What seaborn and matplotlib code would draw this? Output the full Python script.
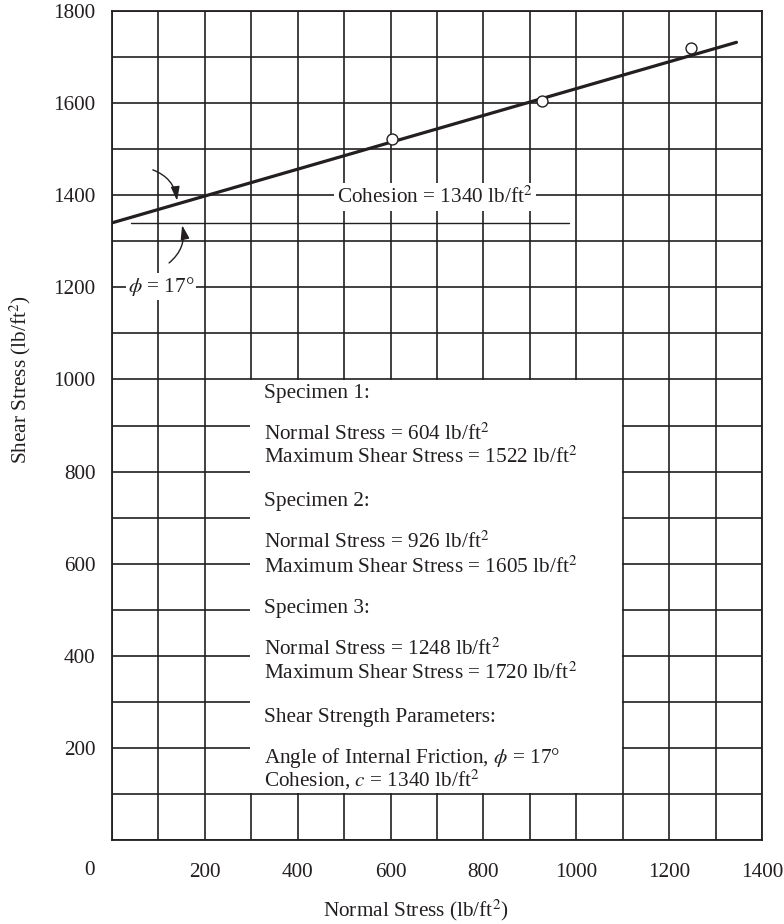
import matplotlib
matplotlib.use("Agg")
import matplotlib.pyplot as plt
import seaborn as sns
import numpy as np
import pandas as pd
from matplotlib.patches import Rectangle

# ---------------- data ----------------
normal_stress = [604, 926, 1248]
shear_stress = [1522, 1605, 1720]
fit_x = [0, 1345]
fit_y = [1340, 1732]
cohesion = 1340
cohesion_line_x = [40, 985]
x_tick_values = list(range(0, 1401, 100))
y_tick_values = list(range(0, 1801, 100))
x_tick_labels = [str(v) if (v % 200 == 0 and v > 0) else "" for v in x_tick_values]
y_tick_labels = [str(v) if (v % 200 == 0 and v > 0) else "" for v in y_tick_values]

info_lines = [
    ("Specimen 1:", 973),
    (r"Normal Stress = 604 lb/ft$^2$", 884),
    (r"Maximum Shear Stress = 1522 lb/ft$^2$", 832),
    ("Specimen 2:", 740),
    (r"Normal Stress = 926 lb/ft$^2$", 649),
    (r"Maximum Shear Stress = 1605 lb/ft$^2$", 595),
    ("Specimen 3:", 506),
    (r"Normal Stress = 1248 lb/ft$^2$", 417),
    (r"Maximum Shear Stress = 1720 lb/ft$^2$", 363),
    ("Shear Strength Parameters:", 271),
    (r"Angle of Internal Friction, $\phi$ = 17°", 182),
    (r"Cohesion, $c$ = 1340 lb/ft$^2$", 130),
]

# ---------------- style ----------------
sns.set_theme(style="white")
ink = "#231f20"
plt.rcParams["font.family"] = ["Liberation Serif", "DejaVu Serif"]
plt.rcParams["mathtext.fontset"] = "stix"
plt.rcParams["text.color"] = ink
plt.rcParams["axes.labelcolor"] = ink
plt.rcParams["xtick.color"] = ink
plt.rcParams["ytick.color"] = ink

FS = 15.3

fig = plt.figure(figsize=(7.84, 9.24), dpi=100)
ax = fig.add_axes([112 / 784, (924 - 840) / 924, 650 / 784, 829 / 924])

df_pts = pd.DataFrame({"normal": normal_stress, "shear": shear_stress})
df_fit = pd.DataFrame({"x": fit_x, "y": fit_y})

sns.lineplot(data=df_fit, x="x", y="y", ax=ax, color=ink, linewidth=2.3, zorder=4)
sns.scatterplot(data=df_pts, x="normal", y="shear", ax=ax, s=62,
                facecolor="white", edgecolor=ink, linewidth=1.0, zorder=5)

ax.set_xlim(0, 1400)
ax.set_ylim(0, 1800)
ax.set_xticks(x_tick_values)
ax.set_xticklabels(x_tick_labels, fontsize=FS)
ax.set_yticks(y_tick_values)
ax.set_yticklabels(y_tick_labels, fontsize=FS)
ax.tick_params(axis="both", length=0)
ax.tick_params(axis="x", pad=16.5)
ax.tick_params(axis="y", pad=12)

ax.set_axisbelow(True)
ax.grid(True, color=ink, linewidth=1.2)
for sp in ax.spines.values():
    sp.set_color(ink)
    sp.set_linewidth(1.3)
    sp.set_visible(True)

# corner zero label
ax.text(-0.034, -0.037, "0", transform=ax.transAxes, fontsize=FS,
        ha="center", va="center")

# white information panel covering the grid
ax.add_patch(Rectangle((297, 102), 1098 - 297, 998 - 102, facecolor="white",
                       edgecolor="none", zorder=1))
for txt, yv in info_lines:
    ax.text(327, yv - 14, txt, fontsize=FS, ha="left", va="baseline", zorder=6)

# cohesion reference line
ax.plot(cohesion_line_x, [cohesion, cohesion], color=ink, linewidth=1.0, zorder=3)

ax.text(485, 1383, r"Cohesion = 1340 lb/ft$^2$", fontsize=FS, ha="left",
        va="baseline", zorder=6,
        bbox=dict(facecolor="white", edgecolor="none", pad=2.5))
ax.text(34, 1190, r"$\phi$ = 17°", fontsize=FS, ha="left", va="baseline",
        zorder=6, bbox=dict(facecolor="white", edgecolor="none", pad=1.5))

arrow_kw = dict(arrowstyle="-|>,head_length=0.7,head_width=0.22",
                color=ink, lw=1.0, shrinkA=0, shrinkB=0)
ax.annotate("", xy=(140, 1388), xytext=(88, 1455),
            arrowprops=dict(connectionstyle="arc3,rad=-0.3", **arrow_kw), zorder=6)
ax.annotate("", xy=(151, 1335), xytext=(123, 1253),
            arrowprops=dict(connectionstyle="arc3,rad=0.3", **arrow_kw), zorder=6)

ax.set_xlabel(r"Normal Stress (lb/ft$^2$)", fontsize=FS)
ax.set_ylabel(r"Shear Stress (lb/ft$^2$)", fontsize=FS)
ax.xaxis.set_label_coords(0.468, -0.069)
ax.yaxis.set_label_coords(-0.122, 0.555)

fig.savefig("out.png", dpi=100)
